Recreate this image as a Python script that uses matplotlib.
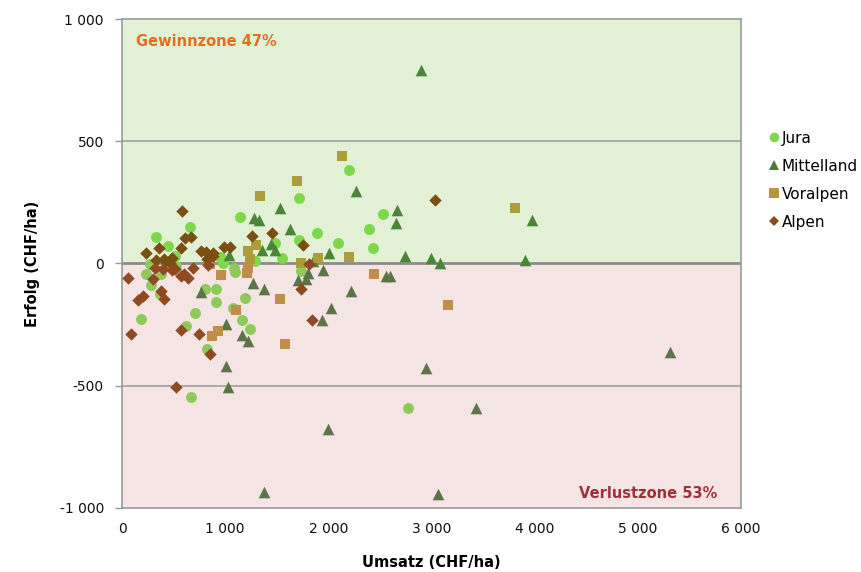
import matplotlib
matplotlib.use("Agg")
import matplotlib.pyplot as plt
from matplotlib.lines import Line2D
from matplotlib.ticker import FuncFormatter
import numpy as np

# Umsatz (CHF/ha), Erfolg (CHF/ha) per Betrieb
jura_x = [2197, 1719, 1141, 2526, 2394, 2430, 2097, 1890, 1719, 1483, 1548, 333, 443, 656,
          511, 269, 947, 1286, 1738, 1189, 1163, 1244, 188, 669, 2775, 704, 620, 827, 914,
          808, 908, 1076, 1085, 1095, 236, 285, 382, 365, 520, 979]
jura_y = [382, 267, 192, 201, 140, 63, 82, 126, 97, 82, 22, 110, 71, 148,
          32, -3, 27, 11, -30, -140, -231, -267, -227, -548, -593, -204, -255, -350, -156,
          -103, -103, -182, -19, -34, -41, -89, -44, -126, -9, 4]

mittel_x = [2901, 2265, 1528, 1283, 1325, 2665, 2655, 1625, 1444, 1480, 1357, 2743, 2995,
            3079, 2003, 1851, 1034, 3909, 3977, 5310, 3430, 1380, 3059, 1996, 2943, 1011,
            1031, 1218, 1163, 1011, 1942, 2026, 2223, 1267, 1380, 763, 1948, 1706, 1787,
            1803, 2562, 2594]
mittel_y = [794, 296, 227, 186, 178, 219, 167, 143, 80, 55, 56, 32, 21,
            4, 44, 11, 36, 16, 178, -361, -591, -934, -943, -676, -427, -420,
            -504, -318, -293, -246, -231, -183, -112, -78, -103, -117, -26, -68, -62,
            -39, -53, -53]

voralp_x = [2129, 1696, 1334, 3805, 1302, 1221, 1237, 2200, 1899, 1732, 963, 1211, 1221,
            850, 1528, 1108, 872, 930, 1583, 2442, 3159]
voralp_y = [441, 336, 278, 226, 77, 52, 19, 25, 22, 4, -48, -37, -19,
            -3, -146, -191, -296, -276, -331, -44, -171]

alpen_x = [581, 608, 672, 575, 230, 359, 769, 817, 882, 327, 414, 478, 821, 882, 988, 1043,
           407, 485, 462, 1451, 1263, 1758, 3037, 58, 300, 323, 398, 517, 575, 640, 688,
           833, 382, 407, 204, 155, 84, 569, 743, 856, 523, 1732, 1845, 1812, 598, 488]
alpen_y = [215, 103, 110, 64, 45, 64, 52, 47, 32, 14, 11, 18, 18, 41, 69, 66,
           18, 22, 4, 123, 112, 75, 259, -60, -62, -19, -23, -23, -51, -60, -20,
           -5, -112, -145, -133, -149, -290, -274, -290, -370, -504, -105, -231, -3, -44, -26]

series = [
    ("Jura", jura_x, jura_y, "o", 62, "#7dd84a", "#8fc95a"),
    ("Mittelland", mittel_x, mittel_y, "^", 70, "#4a8636", "#5c7447"),
    ("Voralpen", voralp_x, voralp_y, "s", 62, "#ad9c3a", "#c08e4a"),
    ("Alpen", alpen_x, alpen_y, "D", 40, "#7b4e12", "#8f4a22"),
]
legend_colors = ["#7dd84a", "#4a7a3a", "#b89440", "#8a4a1a"]

plt.rcParams["font.family"] = ["DejaVu Sans"]

fig = plt.figure(figsize=(8.61, 5.72), dpi=100)
ax = fig.add_axes([0.1417, 0.1124, 0.7189, 0.8539])

ax.axhspan(0, 1000, color="#e2f0d6", zorder=0)
ax.axhspan(-1000, 0, color="#f4e4e4", zorder=0)
for yv in (500, -500):
    ax.axhline(yv, color="#a0a0a0", lw=1.2, zorder=1)
ax.axhline(0, color="#8c8c8c", lw=2, zorder=1)

for name, xs, ys, m, s, c_pos, c_neg in series:
    xs = np.array(xs)
    ys = np.array(ys)
    pos = ys >= 0
    ax.scatter(xs[pos], ys[pos], marker=m, s=s, color=c_pos, lw=0, zorder=3)
    ax.scatter(xs[~pos], ys[~pos], marker=m, s=s, color=c_neg, lw=0, zorder=3)

ax.set_xlim(0, 6000)
ax.set_ylim(-1000, 1000)
ax.set_xticks(range(0, 6001, 1000))
ax.set_yticks(range(-1000, 1001, 500))
fmt = FuncFormatter(lambda v, p: f"{int(v):,}".replace(",", " "))
ax.xaxis.set_major_formatter(fmt)
ax.yaxis.set_major_formatter(fmt)
ax.tick_params(axis="x", length=0, pad=10, labelsize=10, colors="#111111")
ax.tick_params(axis="y", length=5, width=1, pad=8, labelsize=10, colors="#9a9a9a",
               labelcolor="#111111")
for sp in ax.spines.values():
    sp.set_color("#9a9a9a")
    sp.set_linewidth(1.2)

ax.set_xlabel("Umsatz (CHF/ha)", fontsize=10.5, fontweight="bold", labelpad=14)
ax.set_ylabel("Erfolg (CHF/ha)", fontsize=10.5, fontweight="bold", labelpad=14)

ax.text(0.022, 0.955, "Gewinnzone 47%", transform=ax.transAxes, fontsize=10.5,
        fontweight="bold", color="#e07020", ha="left", va="center")
ax.text(0.962, 0.03, "Verlustzone 53%", transform=ax.transAxes, fontsize=10.5,
        fontweight="bold", color="#a03038", ha="right", va="center")

handles = [Line2D([], [], ls="none", marker=m, markersize=7 if m != "D" else 5,
                  color=c, markeredgewidth=0)
           for (n, _, _, m, _, _, _), c in zip(series, legend_colors)]
fig.legend(handles, [s[0] for s in series], loc="upper left",
           bbox_to_anchor=(0.886, 0.782), frameon=False, fontsize=11,
           handlelength=0.6, handletextpad=0.25, labelspacing=0.85, borderaxespad=0)

fig.savefig("out.png", dpi=100)
